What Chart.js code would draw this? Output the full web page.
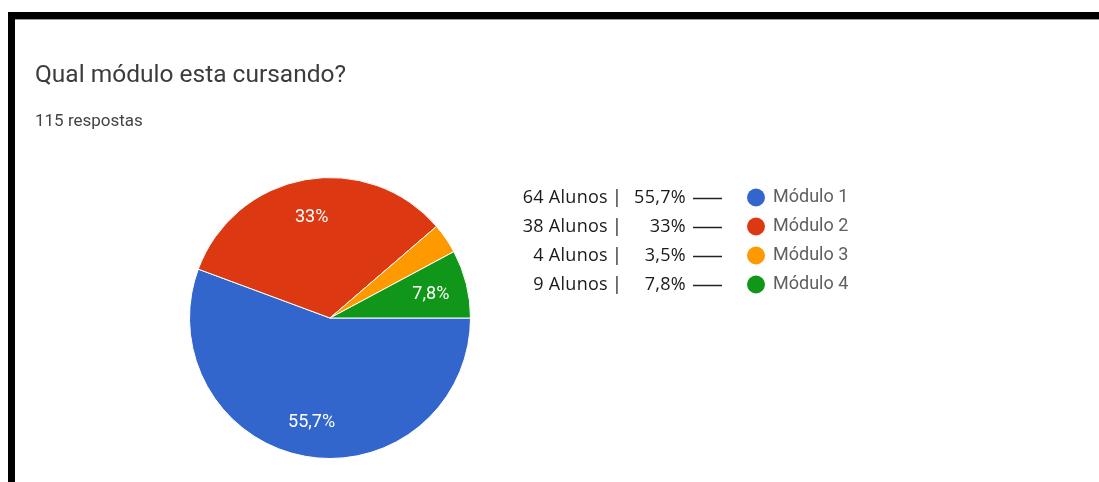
<!DOCTYPE html>
<html>
<head>
<meta charset="utf-8">
<script src="https://cdn.jsdelivr.net/npm/chart.js@4.4.1/dist/chart.umd.min.js"></script>
<style>
    html, body { margin: 0; padding: 0; background: #fff; }
    #wrap { position: relative; width: 1099px; height: 482px; overflow: hidden; }
    #topBar { position: absolute; left: 8px; top: 12px; width: 1091px; height: 7px; background: #000; border-bottom: 1px solid #999; }
    #leftBar { position: absolute; left: 8px; top: 12px; width: 7px; height: 470px; background: #000; }
    #title { position: absolute; left: 35px; top: 62px; font: 24.5px Roboto, sans-serif; line-height: 24.5px; color: #3c3c3c; white-space: nowrap; }
    #subtitle { position: absolute; left: 35px; top: 112px; font: 17px Roboto, sans-serif; line-height: 17px; color: #444; white-space: nowrap; }
    #chartBox { position: absolute; left: 0; top: 0; width: 1099px; height: 482px; }
</style>
</head>
<body>
<div id="wrap">
    <div id="chartBox"><canvas id="moduloChart"></canvas></div>
    <div id="topBar"></div>
    <div id="leftBar"></div>
    <div id="title">Qual módulo esta cursando?</div>
    <div id="subtitle">115 respostas</div>
</div>
<script>
const categories = ['Módulo 1', 'Módulo 2', 'Módulo 3', 'Módulo 4'];
const alunos = [64, 38, 4, 9];
const colors = ['#3366cc', '#dc3912', '#ff9900', '#109618'];

const total = alunos.reduce((a, b) => a + b, 0);

function pct(v) {
    let s = (v / total * 100).toFixed(1);
    if (s.endsWith('.0')) s = s.slice(0, -2);
    return s.replace('.', ',') + '%';
}

// labels inside the slices
const sliceLabels = {
    id: 'sliceLabels',
    afterDatasetsDraw(chart) {
        const ctx = chart.ctx;
        const meta = chart.getDatasetMeta(0);
        ctx.save();
        ctx.font = '18px Roboto, sans-serif';
        ctx.fillStyle = '#fff';
        ctx.textAlign = 'center';
        ctx.textBaseline = 'middle';
        meta.data.forEach((arc, i) => {
            if (alunos[i] / total < 0.05) return;
            const p = arc.getProps(['x', 'y', 'startAngle', 'endAngle', 'outerRadius']);
            const mid = (p.startAngle + p.endAngle) / 2;
            const r = p.outerRadius * 0.74;
            ctx.fillText(pct(alunos[i]), p.x + Math.cos(mid) * r, p.y + Math.sin(mid) * r + 2);
        });
        ctx.restore();
    }
};

// legend with counts on the right
const sideLegend = {
    id: 'sideLegend',
    afterDraw(chart) {
        const ctx = chart.ctx;
        ctx.save();
        ctx.textBaseline = 'middle';
        categories.forEach((name, i) => {
            const y = 197.5 + i * 29;
            ctx.font = '500 18px "Open Sans", sans-serif';
            ctx.fillStyle = '#1a1a1a';
            ctx.letterSpacing = '0.3px';
            ctx.textAlign = 'right';
            ctx.fillText(alunos[i] + ' Alunos', 608, y);
            ctx.fillText(pct(alunos[i]), 686, y);
            ctx.textAlign = 'center';
            ctx.fillText('|', 617, y);
            ctx.letterSpacing = '0px';

            ctx.strokeStyle = '#222';
            ctx.lineWidth = 1.5;
            ctx.beginPath();
            ctx.moveTo(693, y + 1);
            ctx.lineTo(722, y + 1);
            ctx.stroke();

            ctx.fillStyle = colors[i];
            ctx.beginPath();
            ctx.arc(756, y, 9, 0, Math.PI * 2);
            ctx.fill();

            ctx.font = '18px Roboto, sans-serif';
            ctx.fillStyle = '#5f5f5f';
            ctx.textAlign = 'left';
            ctx.fillText(name, 773, y);
        });
        ctx.restore();
    }
};

let ctx = document.getElementById('moduloChart');

new Chart(ctx, {
    type: 'pie',
    data: {
        labels: categories,
        datasets: [{
            data: alunos,
            backgroundColor: colors,
            borderColor: '#fff',
            borderWidth: 1
        }]
    },
    options: {
        responsive: true,
        maintainAspectRatio: false,
        animation: false,
        rotation: 90,
        layout: {
            padding: { left: 189, right: 628, top: 177, bottom: 23 }
        },
        plugins: {
            legend: { display: false },
            tooltip: { enabled: false }
        }
    },
    plugins: [sliceLabels, sideLegend]
});
</script>
</body>
</html>
